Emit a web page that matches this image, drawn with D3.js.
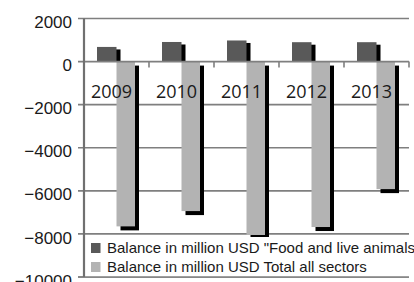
<!DOCTYPE html>
<html>
<head>
<meta charset="utf-8">
<script src="https://cdn.jsdelivr.net/npm/d3@7"></script>
<style>
  html, body { margin: 0; padding: 0; background: #fff; overflow: hidden; }
  svg { display: block; }
</style>
</head>
<body>
<svg id="container" width="414" height="282"></svg>
<script>
// data
var years = ['2009', '2010', '2011', '2012', '2013'];
var foodBalance = [680, 910, 980, 900, 900];          // "Food and live animals"
var totalBalance = [-7650, -6940, -8050, -7680, -5920]; // total all sectors
var yTicks = [2000, 0, -2000, -4000, -6000, -8000, -10000];
var seriesNames = ['Balance in million USD "Food and live animals"', 'Balance in million USD Total all sectors'];
var seriesColors = ['#595959', '#b3b3b3'];

var svg = d3.select('#container');

// plot box (note: "top" is taken by window.top, so plotTop)
var plotLeft = 84, plotRight = 409, plotTop = 18.5, plotBottom = 277;

var x = d3.scaleBand().domain(years).range([plotLeft, plotRight]).paddingInner(0).paddingOuter(0);
var y = d3.scaleLinear().domain([-10000, 2000]).range([plotBottom, plotTop]);

var barW = 19.5;
var shadow = 4;

//gridlines (the 0 line is drawn later as the category axis)
svg.append('g')
  .selectAll('line')
  .data(yTicks.filter(d => d != 0))
  .enter().append('line')
    .attr('x1', plotLeft - 6)
    .attr('x2', plotRight)
    .attr('y1', d => y(d))
    .attr('y2', d => y(d))
    .attr('stroke', '#7f7f7f')
    .attr('stroke-width', 1.6);

//y tick labels
svg.append('g')
  .selectAll('text')
  .data(yTicks)
  .enter().append('text')
    .attr('x', 72)
    .attr('y', d => y(d) + 9.6)
    .attr('text-anchor', 'end')
    .attr('font-family', '"Liberation Sans", Arial, sans-serif')
    .attr('font-size', 17)
    .attr('fill', '#1a1a1a')
    .text(d => d3.format('d')(d));

//bars: shadow first, then bar
var food = svg.append('g');
food.selectAll('rect.sh')
  .data(foodBalance)
  .enter().append('rect')
    .attr('class', 'sh')
    .attr('x', (d, i) => x(years[i]) + x.bandwidth()/2 - barW + shadow)
    .attr('y', d => y(d) + 2.5)
    .attr('width', barW)
    .attr('height', d => y(0) - y(d) - 2.5)
    .attr('fill', '#000');
food.selectAll('rect.bar')
  .data(foodBalance)
  .enter().append('rect')
    .attr('class', 'bar')
    .attr('x', (d, i) => x(years[i]) + x.bandwidth()/2 - barW)
    .attr('y', d => y(d))
    .attr('width', barW)
    .attr('height', d => y(0) - y(d))
    .attr('fill', seriesColors[0]);

var total = svg.append('g');
total.selectAll('rect.sh')
  .data(totalBalance)
  .enter().append('rect')
    .attr('class', 'sh')
    .attr('x', (d, i) => x(years[i]) + x.bandwidth()/2 + shadow)
    .attr('y', y(0) + shadow)
    .attr('width', barW - 1)
    .attr('height', d => y(d) - y(0))
    .attr('fill', '#000');
total.selectAll('rect.bar')
  .data(totalBalance)
  .enter().append('rect')
    .attr('class', 'bar')
    .attr('x', (d, i) => x(years[i]) + x.bandwidth()/2)
    .attr('y', y(0))
    .attr('width', barW - 1)
    .attr('height', d => y(d) - y(0))
    .attr('fill', seriesColors[1]);

//category axis on the zero line, ticks pointing down
var zero = svg.append('g');
zero.append('line')
  .attr('x1', plotLeft - 6).attr('x2', plotRight)
  .attr('y1', y(0)).attr('y2', y(0))
  .attr('stroke', '#7f7f7f')
  .attr('stroke-width', 1.6);
zero.selectAll('line.tk')
  .data(years.slice(1).map(d => x(d)).concat([plotRight]))
  .enter().append('line')
    .attr('class', 'tk')
    .attr('x1', d => d).attr('x2', d => d)
    .attr('y1', y(0)).attr('y2', y(0) + 6)
    .attr('stroke', '#7f7f7f')
    .attr('stroke-width', 1.6);

//category labels
svg.append('g')
  .selectAll('text')
  .data(years)
  .enter().append('text')
    .attr('x', d => x(d) + x.bandwidth()/2 - 5)
    .attr('y', y(0) + 36.5)
    .attr('text-anchor', 'middle')
    .attr('font-family', '"Open Sans", sans-serif')
    .attr('font-size', 18)
    .attr('fill', '#1a1a1a')
    .text(d => d);

//legend, white box over bottom of plot
var legend = svg.append('g');
legend.append('rect')
  .attr('x', plotLeft + 1).attr('y', 237)
  .attr('width', plotRight - plotLeft).attr('height', plotBottom - 237)
  .attr('fill', '#fff');
var items = legend.selectAll('g')
  .data(seriesNames)
  .enter().append('g')
    .attr('transform', (d, i) => `translate(0, ${i*19})`);
items.append('rect')
  .attr('x', 91).attr('y', 243)
  .attr('width', 9.5).attr('height', 10)
  .attr('fill', (d, i) => seriesColors[i]);
items.append('text')
  .attr('x', 107).attr('y', 253)
  .attr('font-family', '"Liberation Sans", Arial, sans-serif')
  .attr('font-size', 15)
  .attr('fill', '#1a1a1a')
  .text(d => d);

//bottom edge of the plot was covered by the legend box, redraw it
svg.append('line')
  .attr('x1', plotLeft - 6).attr('x2', plotRight)
  .attr('y1', y(-10000)).attr('y2', y(-10000))
  .attr('stroke', '#7f7f7f')
  .attr('stroke-width', 1.6);

//y axis line
svg.append('line')
  .attr('x1', plotLeft).attr('x2', plotLeft)
  .attr('y1', plotTop).attr('y2', plotBottom)
  .attr('stroke', '#707070')
  .attr('stroke-width', 2.2);
</script>
</body>
</html>
